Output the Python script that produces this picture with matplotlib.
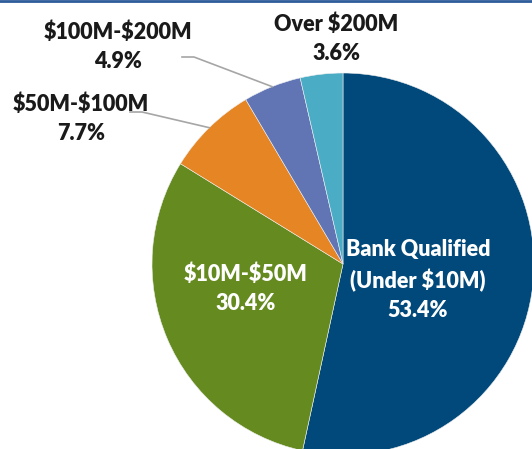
import numpy as np
import matplotlib.pyplot as plt

plt.rcParams['text.parse_math'] = False

# Issue size breakdown
categories = ['Bank Qualified\n(Under $10M)', '$10M-$50M', '$50M-$100M', '$100M-$200M', 'Over $200M']
shares = [53.4, 30.4, 7.7, 4.9, 3.6]
colors = ['#00497A', '#658A1F', '#E68523', '#6175B5', '#4BACC6']

W, H = 532, 449
fig = plt.figure(figsize=(W / 100, H / 100), dpi=100)
ax = fig.add_axes([0, 0, 1, 1])

cx, cy, r = 343, H - 264, 191
wedges, _ = ax.pie(shares, colors=colors, startangle=90, counterclock=False,
                   center=(cx, cy), radius=r, frame=True,
                   wedgeprops=dict(linewidth=0.4, edgecolor='#f0f0f0'))
ax.set_xlim(0, W)
ax.set_ylim(0, H)
ax.axis('off')

font = ['Lato', 'DejaVu Sans']
fs = 15.5
ls = 1.45

def label(i):
    return f'{categories[i]}\n{shares[i]:.1f}%'

# labels inside the two large slices
ax.text(418, H - 280, label(0), ha='center', va='center', color='white',
        fontsize=fs, fontweight='heavy', family=font, linespacing=ls)
ax.text(246, H - 289, label(1), ha='center', va='center', color='white',
        fontsize=fs, fontweight='heavy', family=font, linespacing=ls)

# outside labels with leader lines
ax.text(336, H - 39, label(4), ha='center', va='center', color='#1a1a1a',
        fontsize=fs, fontweight='heavy', family=font, linespacing=ls)
ax.text(118, H - 47, label(3), ha='center', va='center', color='#1a1a1a',
        fontsize=fs, fontweight='heavy', family=font, linespacing=ls)
ax.text(81, H - 119, label(2), ha='center', va='center', color='#1a1a1a',
        fontsize=fs, fontweight='heavy', family=font, linespacing=ls)

def edge_point(w):
    ang = np.deg2rad((w.theta1 + w.theta2) / 2)
    return cx + r * np.cos(ang), cy + r * np.sin(ang)

for w, (x0, y0) in [(wedges[3], (182, 57)), (wedges[2], (130, 112))]:
    ex, ey = edge_point(w)
    ax.plot([x0, x0 + 12, ex], [H - y0, H - y0, ey], color='#A6A6A6', lw=1.2)

# thin rule along the top edge
fig.add_artist(plt.Line2D([0, 1], [0.997, 0.997], transform=fig.transFigure,
                          color='#2E5C9A', lw=2))

fig.savefig('out.png', dpi=100)
